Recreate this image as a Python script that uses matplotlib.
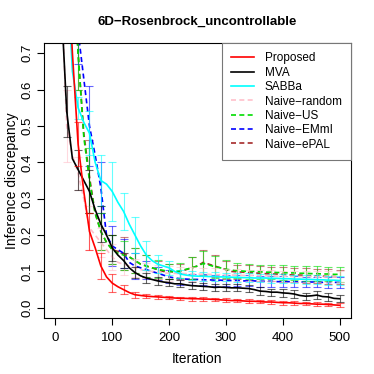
import matplotlib

matplotlib.use("Agg")
import matplotlib.pyplot as plt
import numpy as np

plt.rcParams["font.family"] = ["Liberation Sans", "DejaVu Sans"]

# line data, every 10 iterations from 10 to 500
iters = np.arange(10, 501, 10)
proposed = [1.3, 1.0, 0.70, 0.45, 0.32, 0.21, 0.165, 0.115, 0.085, 0.068,
            0.058, 0.05, 0.042, 0.036, 0.034, 0.032, 0.031, 0.03, 0.029, 0.028,
            0.027, 0.026, 0.026, 0.025, 0.025, 0.024, 0.024, 0.023, 0.022, 0.021,
            0.020, 0.020, 0.019, 0.018, 0.018, 0.017, 0.016, 0.016, 0.015, 0.014,
            0.014, 0.013, 0.012, 0.012, 0.011, 0.010, 0.010, 0.009, 0.008, 0.007]
mva = [0.85, 0.54, 0.41, 0.38, 0.35, 0.32, 0.27, 0.23, 0.2, 0.165,
       0.145, 0.13, 0.11, 0.097, 0.088, 0.082, 0.078, 0.074, 0.071, 0.069,
       0.066, 0.066, 0.063, 0.061, 0.060, 0.059, 0.058, 0.056, 0.057, 0.056,
       0.055, 0.055, 0.054, 0.053, 0.050, 0.046, 0.045, 0.043, 0.043, 0.041,
       0.040, 0.038, 0.034, 0.032, 0.033, 0.035, 0.031, 0.030, 0.026, 0.025]
sabba = [1.2, 0.95, 0.65, 0.55, 0.51, 0.48, 0.40, 0.35, 0.34, 0.32,
         0.29, 0.265, 0.23, 0.2, 0.17, 0.145, 0.13, 0.12, 0.115, 0.11,
         0.10, 0.093, 0.09, 0.088, 0.087, 0.087, 0.086, 0.086, 0.085, 0.085,
         0.084, 0.084, 0.083, 0.083, 0.082, 0.082, 0.082, 0.081, 0.081, 0.080,
         0.080, 0.079, 0.079, 0.078, 0.078, 0.077, 0.077, 0.076, 0.076, 0.075]
naive_random = [0.9, 0.5, 0.42, 0.37, 0.30, 0.22, 0.2, 0.18, 0.16, 0.14,
                0.125, 0.12, 0.115, 0.11, 0.105, 0.102, 0.1, 0.098, 0.096, 0.095,
                0.095, 0.094, 0.094, 0.093, 0.093, 0.092, 0.092, 0.091, 0.091, 0.09,
                0.09, 0.09, 0.089, 0.089, 0.089, 0.088, 0.088, 0.088, 0.087, 0.087,
                0.087, 0.086, 0.086, 0.086, 0.086, 0.085, 0.085, 0.085, 0.085, 0.085]
naive_us = [1.2, 1.05, 0.95, 0.7, 0.47, 0.35, 0.26, 0.21, 0.18, 0.16,
            0.15, 0.145, 0.14, 0.13, 0.12, 0.115, 0.11, 0.106, 0.103, 0.1,
            0.1, 0.102, 0.106, 0.11, 0.115, 0.122, 0.118, 0.113, 0.11, 0.106,
            0.104, 0.102, 0.101, 0.1, 0.1, 0.099, 0.098, 0.098, 0.097, 0.097,
            0.096, 0.096, 0.095, 0.095, 0.094, 0.094, 0.093, 0.093, 0.092, 0.092]
naive_emmi = [1.3, 1.1, 0.95, 0.76, 0.63, 0.5, 0.42, 0.33, 0.2, 0.17,
              0.16, 0.15, 0.125, 0.115, 0.11, 0.105, 0.1, 0.095, 0.09, 0.085,
              0.082, 0.08, 0.079, 0.078, 0.078, 0.077, 0.077, 0.076, 0.076, 0.075,
              0.075, 0.075, 0.074, 0.074, 0.074, 0.073, 0.073, 0.073, 0.072, 0.072,
              0.072, 0.072, 0.071, 0.071, 0.071, 0.071, 0.070, 0.070, 0.070, 0.070]
naive_epal = [1.2, 1.1, 1.0, 0.7, 0.48, 0.36, 0.26, 0.21, 0.18, 0.16,
              0.155, 0.15, 0.14, 0.13, 0.12, 0.115, 0.11, 0.105, 0.1, 0.1,
              0.098, 0.1, 0.105, 0.11, 0.115, 0.125, 0.12, 0.115, 0.11, 0.105,
              0.1, 0.099, 0.098, 0.097, 0.096, 0.095, 0.094, 0.093, 0.093, 0.092,
              0.091, 0.09, 0.09, 0.089, 0.088, 0.088, 0.087, 0.086, 0.086, 0.085]

# error bar half widths, every 20 iterations from 20 to 500
err_iters = np.arange(20, 501, 20)
err_proposed = [0.1, 0.06, 0.05, 0.036, 0.025, 0.012, 0.008, 0.006, 0.005, 0.005,
                0.005, 0.005, 0.005, 0.005, 0.005, 0.005, 0.005, 0.005, 0.005, 0.005,
                0.005, 0.005, 0.005, 0.005, 0.005]
err_mva = [0.07, 0.055, 0.06, 0.05, 0.035, 0.02, 0.015, 0.015, 0.012, 0.01,
           0.01, 0.01, 0.01, 0.01, 0.01, 0.01, 0.01, 0.01, 0.01, 0.01,
           0.01, 0.01, 0.01, 0.01, 0.01]
err_sabba = [0.1, 0.03, 0.06, 0.07, 0.08, 0.05, 0.05, 0.04, 0.025, 0.02,
             0.012, 0.012, 0.012, 0.012, 0.012, 0.012, 0.012, 0.012, 0.012, 0.012,
             0.012, 0.012, 0.012, 0.012, 0.012]
err_random = [0.1, 0.045, 0.06, 0.04, 0.035, 0.03, 0.025, 0.02, 0.02, 0.02,
              0.018, 0.018, 0.018, 0.018, 0.016, 0.016, 0.016, 0.015, 0.015, 0.015,
              0.015, 0.015, 0.015, 0.015, 0.015]
err_us = [0.1, 0.1, 0.09, 0.05, 0.04, 0.04, 0.035, 0.03, 0.025, 0.02,
          0.02, 0.03, 0.035, 0.03, 0.025, 0.02, 0.02, 0.02, 0.02, 0.02,
          0.02, 0.02, 0.02, 0.02, 0.02]
err_emmi = [0.1, 0.09, 0.11, 0.07, 0.055, 0.04, 0.035, 0.025, 0.018, 0.018,
            0.016, 0.016, 0.015, 0.015, 0.015, 0.015, 0.015, 0.015, 0.015, 0.015,
            0.015, 0.015, 0.015, 0.015, 0.015]
err_epal = [0.1, 0.1, 0.1, 0.05, 0.04, 0.045, 0.035, 0.03, 0.025, 0.02,
            0.02, 0.03, 0.035, 0.03, 0.025, 0.02, 0.02, 0.02, 0.02, 0.02,
            0.02, 0.02, 0.02, 0.02, 0.02]

series = [
    ("Proposed", proposed, err_proposed, "red", "-"),
    ("MVA", mva, err_mva, "black", "-"),
    ("SABBa", sabba, err_sabba, "cyan", "-"),
    ("Naive\u2212random", naive_random, err_random, "pink", "--"),
    ("Naive\u2212US", naive_us, err_us, "#00dd00", "--"),
    ("Naive\u2212EMmI", naive_emmi, err_emmi, "blue", "--"),
    ("Naive\u2212ePAL", naive_epal, err_epal, "brown", "--"),
]

fig = plt.figure(figsize=(3.74, 3.74), dpi=100)
ax = fig.add_axes([0.1176, 0.1497, 0.8209, 0.7353])

# draw in reverse so Proposed ends on top
for name, vals, errs, color, ls in reversed(series):
    vals = np.asarray(vals)
    line, = ax.plot(iters, vals, color=color, linestyle=ls, linewidth=1.2,
                    label=name)
    if ls == "--":
        line.set_dashes((3, 2))
    centers = vals[np.searchsorted(iters, err_iters)]
    ax.errorbar(err_iters, centers, yerr=errs, fmt="none", ecolor=color,
                elinewidth=0.8, capsize=3, capthick=0.8, alpha=0.6)

ax.set_xlim(-20, 520)
ax.set_ylim(-0.028, 0.728)
ax.set_xticks([0, 100, 200, 300, 400, 500])
ax.set_yticks([0.0, 0.1, 0.2, 0.3, 0.4, 0.5, 0.6, 0.7])
ax.set_yticklabels(["0.0", "0.1", "0.2", "0.3", "0.4", "0.5", "0.6", "0.7"],
                   rotation=90, va="center")
ax.tick_params(labelsize=9.5, length=5, width=0.8)
ax.tick_params(axis="x", pad=5)
ax.tick_params(axis="y", pad=2.5)
ax.set_xlabel("Iteration", fontsize=10, labelpad=6)
ax.set_ylabel("Inference discrepancy", fontsize=10, labelpad=2)
ax.set_title("6D\u2212Rosenbrock_uncontrollable", fontsize=9.5,
             fontweight="bold", pad=13)

handles, labels = ax.get_legend_handles_labels()
leg = ax.legend(handles[::-1], labels[::-1], loc="upper right", fontsize=8.5,
                borderaxespad=0, fancybox=False, edgecolor="#777777",
                framealpha=1, handlelength=1.9, handletextpad=0.9,
                labelspacing=0.2, borderpad=0.8)
leg.get_frame().set_linewidth(0.8)

plt.savefig("out.png", dpi=100)
plt.close()
